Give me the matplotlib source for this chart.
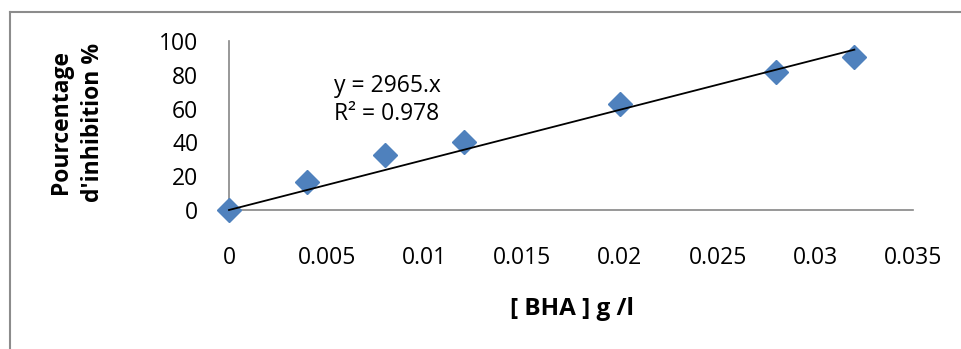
import matplotlib
matplotlib.use("Agg")
import matplotlib.pyplot as plt
from matplotlib.lines import Line2D

# valeurs
bha = [0.0, 0.004, 0.008, 0.012, 0.020, 0.028, 0.032]
inhibition = [0.0, 16.5, 32.5, 40.4, 62.5, 81.5, 90.7]
slope = 2965.0
x_ticks = [0, 0.005, 0.01, 0.015, 0.02, 0.025, 0.03, 0.035]
x_tick_labels = ["0", "0.005", "0.01", "0.015", "0.02", "0.025", "0.03", "0.035"]
y_ticks = [0, 20, 40, 60, 80, 100]

plt.rcParams['font.family'] = ['Open Sans', 'DejaVu Sans']

W, H = 961, 349
fig = plt.figure(figsize=(W / 100, H / 100), dpi=100)

# cadre du graphique (coupé à droite et en bas)
frame_col = '#8c8c8c'
fig.add_artist(Line2D([9.5 / W, 9.5 / W], [0, 1 - 12 / H], transform=fig.transFigure,
                      color=frame_col, lw=1.5))
fig.add_artist(Line2D([9.5 / W, 1], [1 - 12 / H, 1 - 12 / H], transform=fig.transFigure,
                      color=frame_col, lw=1.5))

ax = fig.add_axes([229 / W, (H - 210) / H, (913 - 229) / W, (210 - 41) / H])
ax.set_xlim(0, 0.035)
ax.set_ylim(0, 100)

ax.plot(bha, inhibition, linestyle='none', marker='D', markersize=12.5,
        color='#4F81BD', zorder=3, clip_on=False)
ax.plot([0, bha[-1]], [0, slope * bha[-1]], color='black', lw=1.3, zorder=4,
        clip_on=False)

for side in ['top', 'right']:
    ax.spines[side].set_visible(False)
for side in ['left', 'bottom']:
    ax.spines[side].set_color('#868686')
    ax.spines[side].set_linewidth(1.2)

ax.set_xticks(x_ticks)
ax.set_xticklabels(x_tick_labels)
ax.set_yticks(y_ticks)
ax.tick_params(axis='both', length=0, labelsize=16.5, colors='black')
ax.tick_params(axis='x', pad=26)
ax.tick_params(axis='y', pad=22)

fig.text(334 / W, 1 - 100 / H, "y = 2965.x\nR² = 0.978", fontsize=16.5,
         ha='left', va='center', linespacing=1.2)

fig.text(77 / W, 1 - 122 / H, "Pourcentage\nd'inhibition %", rotation=90,
         ha='center', va='center', fontsize=16.5, fontweight='bold', linespacing=1.4)
fig.text(572 / W, 1 - 309 / H, "[ BHA ] g /l", ha='center', va='center',
         fontsize=17.5, fontweight='bold')

fig.savefig('out.png', dpi=100)
